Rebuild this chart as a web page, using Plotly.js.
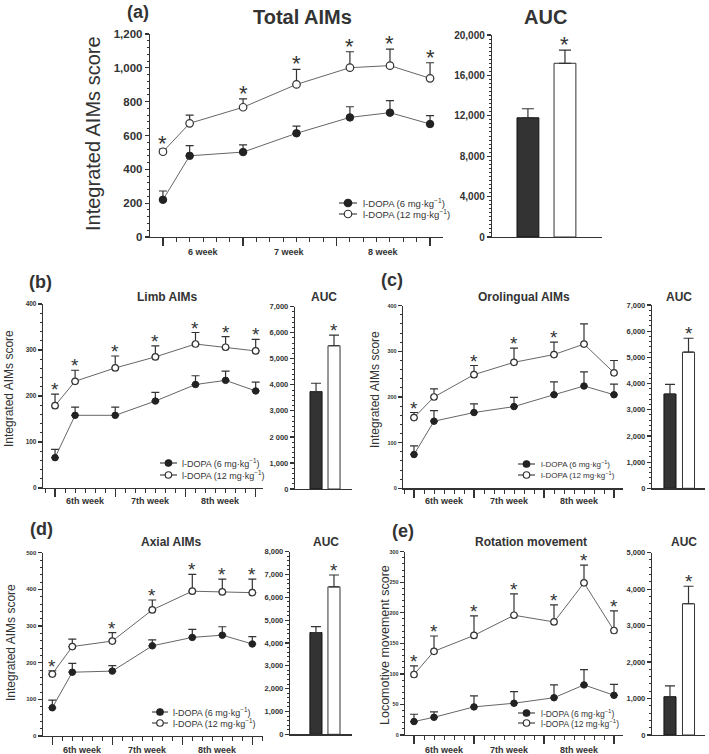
<!DOCTYPE html>
<html>
<head>
<meta charset="utf-8">
<script src="https://cdn.plot.ly/plotly-3.0.1.min.js"></script>
<style>html,body{margin:0;padding:0;background:#fff}</style>
</head>
<body>
<div id="chart" style="width:709px;height:754px"></div>
<script>
// session days, day 0 = first session of the 6th week
const days = [0, 2, 6, 10, 14, 17, 20];
const weekBounds = [0, 6, 13, 20];
const weekNamesA = ['6 week', '7 week', '8 week'];
const weekNames = ['6th week', '7th week', '8th week'];
const groups = ['l-DOPA (6 mg·kg<sup>−1</sup>)', 'l-DOPA (12 mg·kg<sup>−1</sup>)'];
const aucSlots = [1, 2];

// (a) total AIMs
const totalLow = [220, 480, 502, 613, 707, 735, 668];
const totalLowErr = [52, 60, 42, 43, 63, 71, 49];
const totalHigh = [504, 672, 767, 902, 1001, 1013, 938];
const totalHighErr = [15, 49, 50, 89, 94, 98, 92];
const totalStars = [1, 0, 1, 1, 1, 1, 1];
const totalAuc = [11800, 17200];
const totalAucErr = [900, 1300];

// (b) limb AIMs
const limbLow = [66, 158, 158, 189, 225, 234, 211];
const limbLowErr = [18, 18, 18, 19, 19, 20, 19];
const limbHigh = [179, 232, 261, 285, 313, 306, 298];
const limbHighErr = [25, 24, 26, 24, 25, 23, 25];
const limbStars = [1, 1, 1, 1, 1, 1, 1];
const limbAuc = [3740, 5500];
const limbAucErr = [320, 410];
const limbAucTicks = ['0', '1,000', '2 000', '3,000', '4,000', '5,000', '6,000', '7,000'];

// (c) orolingual AIMs
const oroLow = [74, 147, 166, 179, 205, 224, 205];
const oroLowErr = [19, 23, 19, 20, 28, 31, 23];
const oroHigh = [155, 200, 249, 276, 293, 316, 253];
const oroHighErr = [11, 18, 20, 31, 27, 44, 27];
const oroStars = [1, 0, 1, 1, 1, 0, 0];
const oroAuc = [3600, 5200];
const oroAucErr = [370, 530];

// (d) axial AIMs
const axialLow = [77, 174, 177, 246, 269, 275, 251];
const axialLowErr = [21, 24, 15, 16, 22, 23, 20];
const axialHigh = [169, 244, 259, 344, 395, 393, 391];
const axialHighErr = [9, 20, 23, 27, 46, 35, 37];
const axialStars = [1, 0, 1, 1, 1, 1, 1];
const axialAuc = [4460, 6460];
const axialAucErr = [260, 520];

// (e) rotation movement
const rotLow = [22, 29, 46, 52, 61, 82, 65];
const rotLowErr = [12, 9, 18, 19, 21, 25, 18];
const rotHigh = [99, 137, 163, 196, 185, 249, 171];
const rotHighErr = [14, 25, 32, 35, 28, 29, 32];
const rotStars = [1, 1, 1, 1, 1, 1, 1];
const rotAuc = [1050, 3600];
const rotAucErr = [300, 480];

const FONT = 'Arial, "Liberation Sans", sans-serif';
const INK = '#333';
const W = 709, H = 754;
const px = v => v / W;
const py = v => 1 - v / H;

// geometry is in page pixels: [left, right, top, bottom]
// key: symbol x0, symbol x1, text x, row 1 y, row 2 y
const panels = [
    {tag: '(a)', title: 'Total AIMs', ytitle: 'Integrated AIMs score', weeks: weekNamesA,
     low: totalLow, lowErr: totalLowErr, high: totalHigh, highErr: totalHighErr, stars: totalStars,
     auc: totalAuc, aucErr: totalAucErr, aucTicks: null,
     g: {line: [150, 443, 34, 237], lineX: [-0.97, 20.97], yMax: 1200, yStep: 200, yMinor: 40, yFont: 11.5,
         auc: [492, 602, 35, 237], aucX: [0.03, 3.0], aucMax: 20000, aucStep: 4000, aucMinor: 400, aucFont: 10, barW: 0.59, cap: 6,
         weekY: 252, weekFont: 9, tag: [138, 12], tagSize: 18, title: [302, 17], aucTitle: [545, 17], titleSize: 20,
         yTitle: [93, 134], yTitleSize: 20, key: [339, 357, 361, 203, 214], keySize: 9.5, marker: 7.5, star: 22}},
    {tag: '(b)', title: 'Limb AIMs', ytitle: 'Integrated AIMs score', weeks: weekNames,
     low: limbLow, lowErr: limbLowErr, high: limbHigh, highErr: limbHighErr, stars: limbStars,
     auc: limbAuc, aucErr: limbAucErr, aucTicks: limbAucTicks,
     g: {line: [43, 263, 304, 488], lineX: [-1.2, 20.73], yMax: 400, yStep: 100, yMinor: 20, yFont: 6.5,
         auc: [295, 352, 306.7, 489], aucX: [-0.17, 3.0], aucMax: 7000, aucStep: 1000, aucMinor: 200, aucFont: 7.5, barW: 0.67, cap: 5,
         weekY: 501, weekFont: 9, tag: [40, 282], tagSize: 18, title: [167, 297], aucTitle: [324, 297], titleSize: 12,
         yTitle: [9, 389], yTitleSize: 12, key: [160, 177, 180, 463, 475], keySize: 9, marker: 6.5, star: 19}},
    {tag: '(c)', title: 'Orolingual AIMs', ytitle: 'Integrated AIMs score', weeks: weekNames,
     low: oroLow, lowErr: oroLowErr, high: oroHigh, highErr: oroHighErr, stars: oroStars,
     auc: oroAuc, aucErr: oroAucErr, aucTicks: null,
     g: {line: [403, 623, 305.7, 488.3], lineX: [-1.1, 20.9], yMax: 400, yStep: 100, yMinor: 20, yFont: 5.5,
         auc: [652, 705, 305, 488.3], aucX: [0.03, 2.89], aucMax: 7000, aucStep: 1000, aucMinor: 200, aucFont: 7.5, barW: 0.65, cap: 5,
         weekY: 501, weekFont: 9, tag: [392, 280], tagSize: 18, title: [524, 297], aucTitle: [679, 297], titleSize: 12,
         yTitle: [375, 389], yTitleSize: 12, key: [518, 535, 539, 464, 475], keySize: 8, marker: 6.5, star: 19}},
    {tag: '(d)', title: 'Axial AIMs', ytitle: 'Integrated AIMs score', weeks: weekNames,
     low: axialLow, lowErr: axialLowErr, high: axialHigh, highErr: axialHighErr, stars: axialStars,
     auc: axialAuc, aucErr: axialAucErr, aucTicks: null,
     g: {line: [42.7, 263, 552.7, 736], lineX: [-0.96, 21.07], yMax: 500, yStep: 100, yMinor: 20, yFont: 6,
         auc: [290, 352, 551.7, 734.3], aucX: [-0.44, 3.0], aucMax: 8000, aucStep: 1000, aucMinor: 200, aucFont: 7.5, barW: 0.67, cap: 5,
         weekY: 750, weekFont: 9, tag: [41, 529], tagSize: 18, title: [171, 542], aucTitle: [326, 542], titleSize: 12,
         yTitle: [11, 643], yTitleSize: 12, key: [152, 168, 171, 712, 723], keySize: 9, marker: 6.5, star: 19}},
    {tag: '(e)', title: 'Rotation movement', ytitle: 'Locomotive movement score', weeks: weekNames,
     low: rotLow, lowErr: rotLowErr, high: rotHigh, highErr: rotHighErr, stars: rotStars,
     auc: rotAuc, aucErr: rotAucErr, aucTicks: null,
     g: {line: [405, 623, 551.7, 735], lineX: [-0.9, 20.9], yMax: 300, yStep: 50, yMinor: 10, yFont: 5.5,
         auc: [652, 705, 552.7, 735], aucX: [0.03, 2.89], aucMax: 5000, aucStep: 1000, aucMinor: 200, aucFont: 7.5, barW: 0.65, cap: 5,
         weekY: 750, weekFont: 9, tag: [403, 531], tagSize: 18, title: [531, 542], aucTitle: [684, 542], titleSize: 12,
         yTitle: [385, 645], yTitleSize: 12.5, key: [518, 535, 539, 713, 723], keySize: 8.5, marker: 6.5, star: 19}}
];

function ids(n){
    let s = n > 1 ? String(n) : '';
    return {x: 'x' + s, y: 'y' + s, xKey: 'xaxis' + s, yKey: 'yaxis' + s};
}

function note(text, x, y, size, bold, angle){
    return {
        xref: 'paper', yref: 'paper', x: px(x), y: py(y),
        text: text, showarrow: false, textangle: angle || 0,
        xanchor: 'center', yanchor: 'middle',
        font: {family: FONT, size: size, color: INK, weight: bold ? 'bold' : 'normal'}
    };
}

function star(xref, yref, x, y, size){
    return {
        xref: xref, yref: yref, x: x, y: y, text: '*', showarrow: false,
        xanchor: 'center', yanchor: 'bottom', yshift: -Math.round(size * 0.4),
        font: {family: FONT, size: size, color: INK}
    };
}

let traces = [];
let shapes = [];
let layout = {
    width: W, height: H,
    margin: {l: 0, r: 0, t: 0, b: 0},
    paper_bgcolor: '#fff', plot_bgcolor: 'rgba(0,0,0,0)',
    font: {family: FONT, color: INK},
    showlegend: false,
    annotations: [],
    shapes: shapes
};

for (let k = 0; k < panels.length; k++){
    let p = panels[k];
    let g = p.g;
    let L = ids(2 * k + 1);
    let A = ids(2 * k + 2);
    let base = {showline: true, linecolor: INK, linewidth: 1.2, showgrid: false, zeroline: false,
                ticks: 'outside', tickcolor: INK, tickwidth: 1.2, fixedrange: true};

    layout[L.xKey] = Object.assign({}, base, {
        anchor: L.y, domain: [px(g.line[0]), px(g.line[1])], range: g.lineX,
        tickmode: 'array', tickvals: weekBounds, showticklabels: false, ticklen: 8,
        minor: {tickmode: 'linear', tick0: 0, dtick: 1, ticks: 'outside', ticklen: 4, tickcolor: INK, tickwidth: 1}
    });
    layout[L.yKey] = Object.assign({}, base, {
        anchor: L.x, domain: [py(g.line[3]), py(g.line[2])], range: [0, g.yMax],
        tickmode: 'linear', tick0: 0, dtick: g.yStep, ticklen: 4, tickformat: ',d',
        tickfont: {family: FONT, size: g.yFont, color: INK, weight: 'bold'},
        minor: {tickmode: 'linear', tick0: 0, dtick: g.yMinor, ticks: 'outside', ticklen: 2, tickcolor: INK, tickwidth: 1}
    });
    layout[A.xKey] = Object.assign({}, base, {
        anchor: A.y, domain: [px(g.auc[0]), px(g.auc[1])], range: g.aucX,
        ticks: '', showticklabels: false
    });
    let aucY = Object.assign({}, base, {
        anchor: A.x, domain: [py(g.auc[3]), py(g.auc[2])], range: [0, g.aucMax],
        ticklen: 4, tickformat: ',d',
        tickfont: {family: FONT, size: g.aucFont, color: INK, weight: 'bold'},
        minor: {tickmode: 'linear', tick0: 0, dtick: g.aucMinor, ticks: 'outside', ticklen: 2, tickcolor: INK, tickwidth: 1}
    });
    if (p.aucTicks){
        aucY.tickmode = 'array';
        aucY.tickvals = p.aucTicks.map((t, i) => i * g.aucStep);
        aucY.ticktext = p.aucTicks;
    } else {
        aucY.tickmode = 'linear';
        aucY.tick0 = 0;
        aucY.dtick = g.aucStep;
    }
    layout[A.yKey] = aucY;

    // dose-response lines with upward error bars
    traces.push({
        type: 'scatter', mode: 'lines+markers', name: groups[0],
        x: days, y: p.low, xaxis: L.x, yaxis: L.y, cliponaxis: false, hoverinfo: 'skip',
        line: {color: '#666', width: 1},
        marker: {size: g.marker, color: '#222', line: {color: '#222', width: 1}},
        error_y: {type: 'data', symmetric: false, array: p.lowErr, arrayminus: p.lowErr.map(() => 0),
                  color: INK, thickness: 1.2, width: 4}
    });
    traces.push({
        type: 'scatter', mode: 'lines+markers', name: groups[1],
        x: days, y: p.high, xaxis: L.x, yaxis: L.y, cliponaxis: false, hoverinfo: 'skip',
        line: {color: '#666', width: 1},
        marker: {size: g.marker, color: '#fff', line: {color: INK, width: 1.2}},
        error_y: {type: 'data', symmetric: false, array: p.highErr, arrayminus: p.highErr.map(() => 0),
                  color: INK, thickness: 1.2, width: 4}
    });
    for (let i = 0; i < days.length; i++){
        if (p.stars[i]){
            layout.annotations.push(star(L.x, L.y, days[i], p.high[i] + p.highErr[i], g.star));
        }
    }

    // AUC bars
    traces.push({
        type: 'bar', x: aucSlots, y: p.auc, width: g.barW, xaxis: A.x, yaxis: A.y,
        hoverinfo: 'skip', cliponaxis: false,
        marker: {color: ['#333', '#fff'], line: {color: ['#111', INK], width: 1}},
        error_y: {type: 'data', symmetric: false, array: p.aucErr, arrayminus: p.aucErr.map(() => 0),
                  color: INK, thickness: 1.2, width: g.cap}
    });
    layout.annotations.push(star(A.x, A.y, aucSlots[1], p.auc[1] + p.aucErr[1], g.star));

    // key: line + marker symbol, then label
    let key = g.key;
    let r = g.marker / 2;
    let cx = (key[0] + key[1]) / 2;
    for (let j = 0; j < 2; j++){
        let ky = key[3 + j];
        shapes.push({type: 'line', xref: 'paper', yref: 'paper', x0: px(key[0]), x1: px(key[1]), y0: py(ky), y1: py(ky),
                     line: {color: '#444', width: 1.2}});
        shapes.push({type: 'circle', xref: 'paper', yref: 'paper',
                     x0: px(cx - r), x1: px(cx + r), y0: py(ky + r), y1: py(ky - r),
                     fillcolor: j === 0 ? '#222' : '#fff', line: {color: j === 0 ? '#222' : INK, width: 1.2}});
        layout.annotations.push({
            xref: 'paper', yref: 'paper', x: px(key[2]), y: py(ky), text: groups[j], showarrow: false,
            xanchor: 'left', yanchor: 'middle', font: {family: FONT, size: g.keySize, color: INK}
        });
    }

    // labels
    layout.annotations.push(note(p.tag, g.tag[0], g.tag[1], g.tagSize, true));
    layout.annotations.push(note(p.title, g.title[0], g.title[1], g.titleSize, true));
    layout.annotations.push(note('AUC', g.aucTitle[0], g.aucTitle[1], g.titleSize, true));
    layout.annotations.push(note(p.ytitle, g.yTitle[0], g.yTitle[1], g.yTitleSize, false, -90));
    for (let w = 0; w < p.weeks.length; w++){
        layout.annotations.push({
            xref: L.x, yref: 'paper', x: (weekBounds[w] + weekBounds[w + 1]) / 2, y: py(g.weekY),
            text: p.weeks[w], showarrow: false, xanchor: 'center', yanchor: 'middle',
            font: {family: FONT, size: g.weekFont, color: INK, weight: 'bold'}
        });
    }
}

Plotly.newPlot('chart', traces, layout, {staticPlot: true, displayModeBar: false});
</script>
</body>
</html>
